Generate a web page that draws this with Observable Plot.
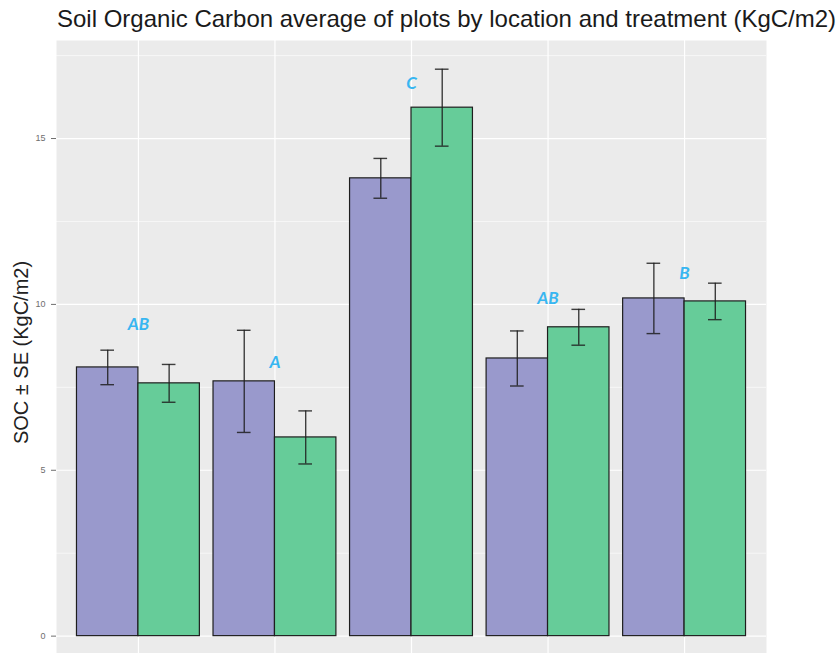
<!DOCTYPE html>
<html>
<head>
<meta charset="utf-8">
<script src="https://cdn.jsdelivr.net/npm/d3@7"></script>
<script src="https://cdn.jsdelivr.net/npm/@observablehq/plot@0.6"></script>
<style>
  html, body { margin: 0; padding: 0; background: #fff; overflow: hidden; }
  #title {
    height: 32px; padding-top: 2px; line-height: 34px;
    padding-left: 57px;
    font-family: "Liberation Sans", Arial, sans-serif;
    font-size: 24px; color: #1a1a1a; white-space: nowrap;
  }
  #chart svg { display: block; }
</style>
</head>
<body>
<div id="title">Soil Organic Carbon average of plots by location and treatment (KgC/m2)</div>
<div id="chart"></div>
<script>
// Five locations, two treatments each
const locations = ["L1", "L2", "L3", "L4", "L5"];
const treatments = ["T1", "T2"];

// Mean soil organic carbon (KgC/m2) and standard error per treatment
const socT1 = [8.10, 7.68, 13.80, 8.37, 10.18];
const seT1  = [0.52, 1.54, 0.60, 0.83, 1.06];
const socT2 = [7.62, 5.99, 15.93, 9.31, 10.09];
const seT2  = [0.57, 0.80, 1.16, 0.54, 0.55];

// Significance group letters and the height they sit at
const groupLetters = ["AB", "A", "C", "AB", "B"];
const letterHeights = [9.40, 8.25, 16.66, 10.18, 10.93];

// Axis ticks
const yTicks = [0, 5, 10, 15];
const yMinor = [2.5, 7.5, 12.5, 17.5];

const dodge = 0.45;    // width of one bar in location units
const capHalf = 0.05;  // half width of the error bar caps

const rows = locations.flatMap((loc, i) => treatments.map((t, j) => {
  const x1 = i + 1 - dodge + j * dodge;
  const soc = j === 0 ? socT1[i] : socT2[i];
  const se = j === 0 ? seT1[i] : seT2[i];
  return { location: loc, treatment: t, x1, x2: x1 + dodge, mid: x1 + dodge / 2, soc, lo: soc - se, hi: soc + se };
}));

const letterRows = locations.map((loc, i) => ({ location: loc, pos: i + 1, letter: groupLetters[i], y: letterHeights[i] }));
const positions = locations.map((_, i) => i + 1);

const ink = "#1e1e1e";

const chart = Plot.plot({
  width: 839,
  height: 630,
  marginTop: 6,
  marginBottom: 0,
  marginLeft: 56,
  marginRight: 73,
  x: { type: "linear", domain: [0.4, 5.6], axis: null },
  y: { domain: [-0.855, 17.955], axis: null },
  color: { domain: treatments, range: ["#9999CC", "#66CC99"] },
  style: { fontFamily: "'Liberation Sans', Arial, sans-serif", background: "white", overflow: "visible" },
  marks: [
    Plot.frame({ fill: "#EBEBEB", stroke: "none" }),
    Plot.ruleY(yMinor, { stroke: "white", strokeWidth: 0.6 }),
    Plot.ruleY(yTicks, { stroke: "white", strokeWidth: 1.2 }),
    Plot.ruleX(positions, { stroke: "white", strokeWidth: 1.2 }),
    Plot.rect(rows, { x1: "x1", x2: "x2", y1: 0, y2: "soc", fill: "treatment", stroke: ink, strokeWidth: 1.2 }),
    Plot.ruleX(rows, { x: "mid", y1: "lo", y2: "hi", stroke: ink, strokeOpacity: 0.85, strokeWidth: 1.4 }),
    Plot.ruleY(rows, { y: "lo", x1: d => d.mid - capHalf, x2: d => d.mid + capHalf, stroke: ink, strokeOpacity: 0.85, strokeWidth: 1.4 }),
    Plot.ruleY(rows, { y: "hi", x1: d => d.mid - capHalf, x2: d => d.mid + capHalf, stroke: ink, strokeOpacity: 0.85, strokeWidth: 1.4 }),
    Plot.text(letterRows, {
      x: "pos", y: "y", text: "letter",
      fill: "#38B6F1", fontSize: 17, fontWeight: "bold", fontStyle: "italic",
      fontFamily: "Lato, 'Open Sans', sans-serif"
    }),
    Plot.axisY(yTicks, { tickSize: 5, tickPadding: 6, fontSize: 9, color: "#6e6e6e", label: null }),
    Plot.text(["SOC ± SE (KgC/m2)"], {
      frameAnchor: "left", rotate: -90, dx: -35, textAnchor: "middle",
      fontSize: 20, fill: "#222"
    })
  ]
});

document.getElementById("chart").append(chart);
</script>
</body>
</html>
